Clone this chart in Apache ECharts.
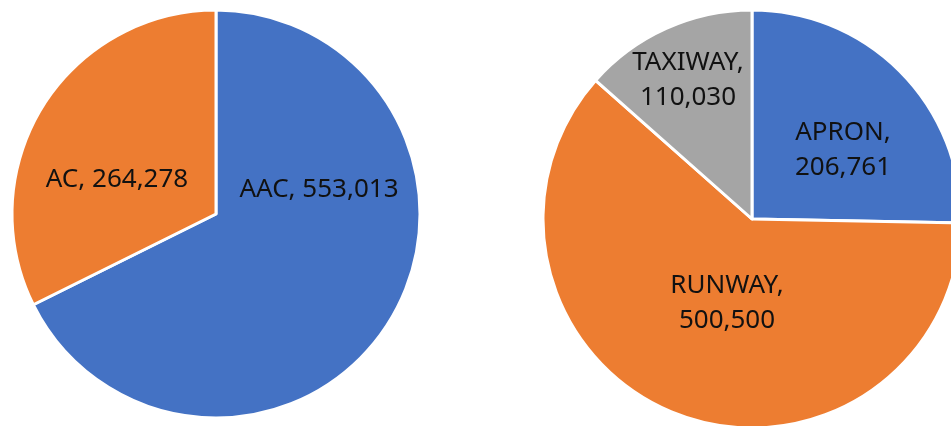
<!DOCTYPE html>
<html>
<head>
<meta charset="utf-8">
<script src="https://cdn.jsdelivr.net/npm/echarts@6/dist/echarts.min.js"></script>
<style>
html,body{margin:0;padding:0;background:#fff;}
#c{width:951px;height:426px;}
</style>
</head>
<body>
<div id="c"></div>
<script>
var leftCategories = ['AAC', 'AC'];
var leftValues = [553013, 264278];
var rightCategories = ['APRON', 'RUNWAY', 'TAXIWAY'];
var rightValues = [206761, 500500, 110030];
var leftColors = ['#4472C4', '#ED7D31'];
var rightColors = ['#4472C4', '#ED7D31', '#A5A5A5'];

var labelPos = {
  'AAC': [319, 190],
  'AC': [117, 180],
  'APRON': [843, 150],
  'RUNWAY': [727, 303],
  'TAXIWAY': [688, 80]
};

function fmt(v){ return v.toLocaleString('en-US'); }

var chart = echarts.init(document.getElementById('c'), null, {renderer:'canvas'});
var font = '"Noto Sans", sans-serif';
function mk(cats, vals, cols){
  return cats.map(function(n,i){ return {name:n, value:vals[i], itemStyle:{color:cols[i]}}; });
}
function layout(p){
  var pos = labelPos[p.text.split(',')[0]];
  return {x: pos[0], y: pos[1], align:'center', verticalAlign:'middle'};
}
chart.setOption({
  animation:false,
  series:[
    {
      type:'pie', center:[216,214], radius:204, startAngle:90, clockwise:true,
      silent:true,
      data: mk(leftCategories, leftValues, leftColors),
      itemStyle:{borderColor:'#fff', borderWidth:3},
      label:{show:true, position:'inside', fontFamily:font, fontSize:26, color:'#111',
        formatter:function(p){ return p.name + ', ' + fmt(p.value); }},
      labelLine:{show:false},
      labelLayout: layout
    },
    {
      type:'pie', center:[752,219], radius:209, startAngle:90, clockwise:true,
      silent:true,
      data: mk(rightCategories, rightValues, rightColors),
      itemStyle:{borderColor:'#fff', borderWidth:3},
      label:{show:true, position:'inside', fontFamily:font, fontSize:26, color:'#111', lineHeight:35, align:'center',
        formatter:function(p){ return p.name + ',\n' + fmt(p.value); }},
      labelLine:{show:false},
      labelLayout: layout
    }
  ]
});
</script>
</body>
</html>
